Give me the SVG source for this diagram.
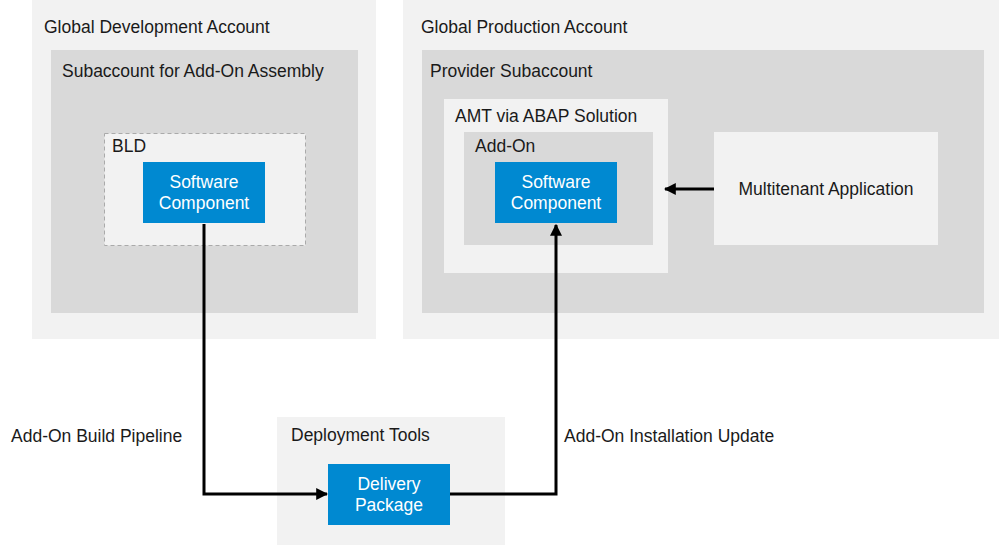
<svg xmlns="http://www.w3.org/2000/svg" width="999" height="545" viewBox="0 0 999 545">
<defs>
<style>
.l1{fill:#f2f2f2}
.l2{fill:#d9d9d9}
.blue{fill:#0089d1}
text{font-family:"Liberation Sans",Arial,sans-serif;font-size:17.5px;fill:#1a1a1a}
.w{fill:#ffffff;text-anchor:middle}
.conn{fill:none;stroke:#000;stroke-width:3}
</style>
<marker id="arr" viewBox="0 0 10 10" refX="9" refY="5" markerWidth="4" markerHeight="4" orient="auto-start-reverse" markerUnits="strokeWidth">
<path d="M0,0 L10,5 L0,10 z" fill="#000"/>
</marker>
</defs>
<rect width="999" height="545" fill="#ffffff"/>
<g id="global-dev">
<rect class="l1" x="32" y="0" width="344" height="339"/>
<text x="44" y="33">Global Development Account</text>
</g>
<g id="subaccount-assembly">
<rect class="l2" x="51" y="50" width="307" height="263"/>
<text x="62" y="77">Subaccount for Add-On Assembly</text>
</g>
<g id="bld">
<rect class="l1" x="104.5" y="133.5" width="201" height="112" stroke="#aaaaaa" stroke-dasharray="4,3"/>
<text x="112" y="152">BLD</text>
</g>
<g id="sc-dev">
<rect class="blue" x="143" y="162" width="122" height="61"/>
<text class="w" x="204" y="188">Software</text>
<text class="w" x="204" y="209">Component</text>
</g>
<g id="global-prod">
<rect class="l1" x="403" y="0" width="596" height="339"/>
<text x="421" y="33">Global Production Account</text>
</g>
<g id="provider-subaccount">
<rect class="l2" x="422" y="50" width="562" height="263"/>
<text x="430" y="77">Provider Subaccount</text>
</g>
<g id="amt">
<rect class="l1" x="444" y="99" width="224" height="174"/>
<text x="455" y="122">AMT via ABAP Solution</text>
</g>
<g id="addon">
<rect class="l2" x="464" y="132" width="189" height="113"/>
<text x="475" y="152">Add-On</text>
</g>
<g id="sc-prod">
<rect class="blue" x="495" y="162" width="122" height="61"/>
<text class="w" x="556" y="188">Software</text>
<text class="w" x="556" y="209">Component</text>
</g>
<g id="multitenant">
<rect class="l1" x="714" y="132" width="224" height="113"/>
<text x="826" y="195" text-anchor="middle">Multitenant Application</text>
</g>
<g id="deployment-tools">
<rect class="l1" x="277" y="417" width="228" height="128"/>
<text x="291" y="441">Deployment Tools</text>
</g>
<g id="delivery-package">
<rect class="blue" x="328" y="464" width="122" height="61"/>
<text class="w" x="389" y="490">Delivery</text>
<text class="w" x="389" y="511">Package</text>
</g>
<g id="connectors">
<polyline class="conn" points="204,224 204,494 327,494" marker-end="url(#arr)"/>
<polyline class="conn" points="450,494 556,494 556,225" marker-end="url(#arr)"/>
<line class="conn" x1="714" y1="189" x2="665" y2="189" marker-end="url(#arr)"/>
<text x="11" y="442">Add-On Build Pipeline</text>
<text x="564" y="442">Add-On Installation Update</text>
</g>
</svg>
